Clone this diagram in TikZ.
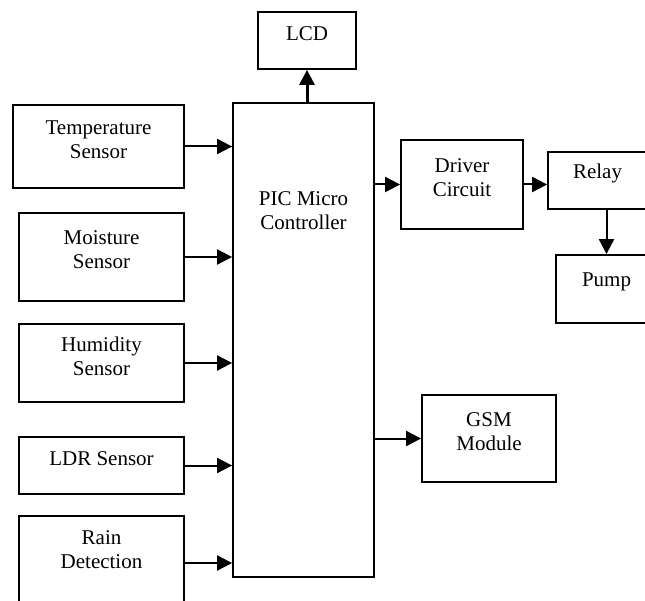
\documentclass[tikz,border=0pt]{standalone}
\usepackage{fontspec}
\setmainfont{Liberation Serif}
\usetikzlibrary{arrows.meta,positioning,calc}

\tikzset{
  block/.style={draw,line width=1.8pt,inner sep=0pt},
  tag/.style={font=\fontsize{21}{24}\selectfont,align=center,inner sep=0pt},
  inside/.style={tag,yshift=7pt},
  feed/.style={line width=2pt,-{Triangle[length=15pt,width=15pt]}},
}

\begin{document}
\begin{tikzpicture}[x=1pt,y=-1pt]
  \fill[white] (0,0) rectangle (645,601);

  % controller and display
  \node[block,minimum width=141pt,minimum height=474pt] (pic) at (303.5,340) {};
  \node[tag] (pictext) at (303.5,210.5) {PIC Micro\\Controller};
  \node[block,minimum width=98pt,minimum height=57pt,label={[inside]center:LCD}] (lcd) at (307,40.5) {};

  % sensors on the left
  \node[block,minimum width=171pt,minimum height=83pt,label={[inside]center:Temperature\\Sensor}] (temp) at (98.5,146.5) {};
  \node[block,minimum width=165pt,minimum height=88pt,label={[inside]center:Moisture\\Sensor}] (moist) at (101.5,257) {};
  \node[block,minimum width=165pt,minimum height=78pt,label={[inside]center:Humidity\\Sensor}] (hum) at (101.5,363) {};
  \node[block,minimum width=165pt,minimum height=57pt,label={[inside]center:LDR Sensor}] (ldr) at (101.5,465.5) {};
  \node[block,minimum width=165pt,minimum height=94pt,label={[tag,yshift=13pt]center:Rain\\Detection}] (rain) at (101.5,563) {};

  % outputs on the right
  \node[block,minimum width=122pt,minimum height=89pt,label={[inside]center:Driver\\Circuit}] (driver) at (462,184.5) {};
  \node[block,minimum width=99pt,minimum height=57pt,label={[inside]center:Relay}] (relay) at (597.5,180.5) {};
  \node[block,minimum width=101pt,minimum height=68pt,label={[inside]center:Pump}] (pump) at (606.5,289) {};
  \node[block,minimum width=134pt,minimum height=87pt,label={[inside]center:GSM\\Module}] (gsm) at (489,438.5) {};

  % connections
  \foreach \s in {temp,moist,hum,ldr,rain}
    \draw[feed] (\s.east) -- (\s.east -| pic.west);
  \draw[feed,line width=3pt] (pic.north -| lcd.south) -- (lcd.south);
  \draw[feed] (pic.east |- driver.west) -- (driver.west);
  \draw[feed] (driver.east) -- (driver.east -| relay.west);
  \draw[feed] (relay.south -| pump.north) -- (pump.north);
  \draw[feed] (pic.east |- gsm.west) -- (gsm.west);

  \pgfresetboundingbox
  \useasboundingbox (0,0) rectangle (645,601);
\end{tikzpicture}
\end{document}
